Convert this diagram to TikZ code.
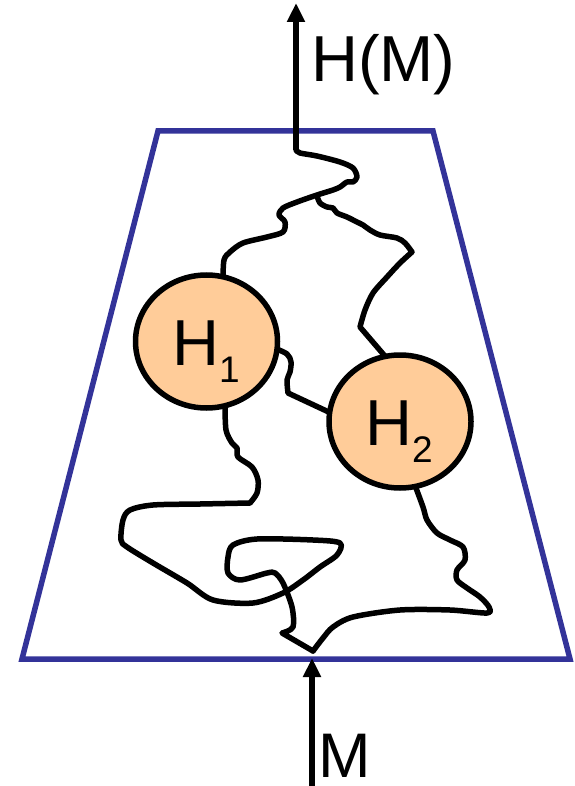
\documentclass[tikz,border=0pt]{standalone}
\usepackage{fontspec}
\setmainfont{Liberation Sans}
\usetikzlibrary{arrows.meta,shapes.geometric}
\definecolor{trapblue}{HTML}{333399}
\definecolor{peach}{HTML}{FFCC99}
\tikzset{
  wire/.style={line width=5.5pt, line cap=round, line join=round},
  frame/.style={draw=trapblue, line width=5.5pt, line join=miter},
  ball/.style={ellipse, draw, fill=peach, line width=5.5pt, minimum width=142pt, minimum height=133pt, inner sep=0pt},
  big/.style={font=\fontsize{65}{70}\selectfont, inner sep=0pt},
  arr/.style={line width=5.5pt, -{Triangle[width=17pt,length=19pt]}},
}
\newcommand{\subtxt}[1]{\raisebox{-17pt}{\fontsize{37}{40}\selectfont #1}}
\begin{document}
\begin{tikzpicture}[x=1pt,y=-1pt]
\useasboundingbox (0,0) rectangle (574,786);
% frame
\draw[frame] (158,131) -- (433,131) -- (570,659) -- (22,659) -- cycle;
% arrows
\coordinate (topstart) at (296,150);
\coordinate (toptip) at (296,3);
\coordinate (botstart) at (312,786);
\coordinate (bottip) at (312,658);
\draw[arr] (topstart) -- (toptip);
\draw[arr] (botstart) -- (bottip);
\node[big, anchor=base west] (hm) at (311,82) {H(M)};
\node[big, anchor=base west, font=\fontsize{63}{70}\selectfont] (m) at (318,777) {M};
% wiggly line
\draw[wire] plot[smooth, tension=0.5] coordinates {(296,150) (300,153) (317,156) (340,162) (353,168) (357,177) (353,182) (347,182) (340,187) (333,190) (317,195) (297,202) (283,208) (279,215) (285,222) (283,232) (267,237) (243,243) (230,252) (224,260) (223,280)};
\draw[wire] plot[smooth, tension=0.5] coordinates {(317,196) (320,203) (327,207) (333,208) (337,213) (347,217) (357,222) (363,225) (370,230) (380,235) (397,238) (405,243) (412,252)}
  plot[smooth, tension=0.5] coordinates {(412,252) (400,263) (387,277) (373,293) (365,310) (360,327)}
  -- (390,362);
\draw[wire] plot[smooth, tension=0.5] coordinates {(272,347) (287,354) (291,362) (290,372) (287,380) (288,393)} -- (333,414);
\draw[wire] plot[smooth, tension=0.5] coordinates {(225,405) (226,430) (232,443) (237,448) (238,457) (252,467) (258,480) (257,493) (250,503)}
  plot[smooth, tension=0.5] coordinates {(250,503) (200,504) (153,505) (130,510) (123,520) (121,540) (127,547) (153,563) (187,583) (213,600) (253,603) (283,593) (303,580) (320,567) (337,555) (340,543) (313,540) (257,539) (233,545) (228,557) (228,573) (240,580) (267,573) (275,573) (283,583) (292,607) (293,627) (282,633)}
  -- (313,651);
\draw[wire] plot[smooth, tension=0.5] coordinates {(313,651) (323,638) (333,627) (353,617) (400,610) (450,610) (487,613) (489,607) (480,597) (467,588) (457,580) (457,570) (465,560) (463,547) (450,540) (437,533) (427,520) (423,507) (413,480)};
% balls
\node[ball] (h1) at (206.5,341.5) {};
\node[ball] (h2) at (400,421.5) {};
\node[big, anchor=base west] (h1t) at (172,365) {H\subtxt{1}};
\node[big, anchor=base west] (h2t) at (365,445) {H\subtxt{2}};
\end{tikzpicture}
\end{document}
